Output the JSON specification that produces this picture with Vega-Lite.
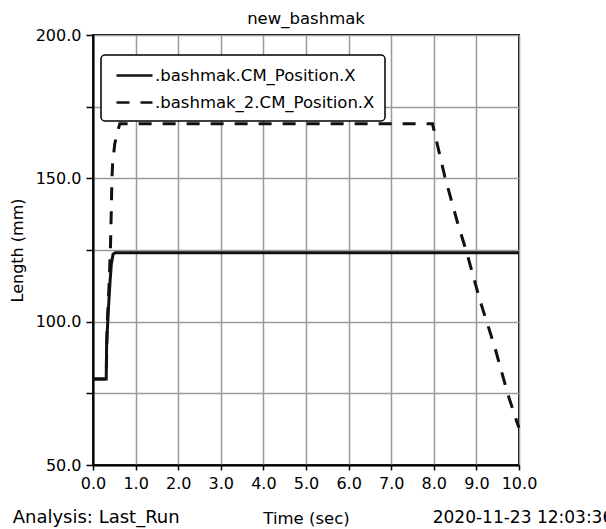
{
  "$schema": "https://vega.github.io/schema/vega-lite/v6.json",
  "width": 426,
  "height": 430,
  "autosize": {"type": "none"},
  "padding": {"left": 93, "top": 35, "right": 87, "bottom": 64},
  "background": "white",
  "title": {
    "text": "new_bashmak",
    "font": "DejaVu Sans",
    "fontSize": 16.5,
    "fontWeight": "normal",
    "color": "black",
    "offset": 0
  },
  "config": {
    "font": "DejaVu Sans",
    "view": {"stroke": "black", "strokeWidth": 2},
    "legend": {"strokeWidth": 1.5},
    "axis": {
      "grid": true,
      "gridColor": "#9a9a9a",
      "gridWidth": 1.5,
      "gridOpacity": 1,
      "domainColor": "black",
      "domainWidth": 2,
      "tickColor": "black",
      "tickWidth": 1.5,
      "labelColor": "black",
      "labelFontSize": 16,
      "labelFlush": false,
      "labelOverlap": false,
      "titleColor": "black",
      "titleFontWeight": "normal"
    }
  },
  "layer": [
    {
      "data": {
        "values": [
          {"t": 0, "v": 80, "series": ".bashmak.CM_Position.X"},
          {"t": 0.31, "v": 80, "series": ".bashmak.CM_Position.X"},
          {"t": 0.32, "v": 92, "series": ".bashmak.CM_Position.X"},
          {"t": 0.36, "v": 104, "series": ".bashmak.CM_Position.X"},
          {"t": 0.4, "v": 114, "series": ".bashmak.CM_Position.X"},
          {"t": 0.43, "v": 120, "series": ".bashmak.CM_Position.X"},
          {"t": 0.47, "v": 123.5, "series": ".bashmak.CM_Position.X"},
          {"t": 0.52, "v": 124, "series": ".bashmak.CM_Position.X"},
          {"t": 10, "v": 124, "series": ".bashmak.CM_Position.X"},
          {"t": 0, "v": 80, "series": ".bashmak_2.CM_Position.X"},
          {"t": 0.31, "v": 80, "series": ".bashmak_2.CM_Position.X"},
          {"t": 0.33, "v": 98, "series": ".bashmak_2.CM_Position.X"},
          {"t": 0.38, "v": 114, "series": ".bashmak_2.CM_Position.X"},
          {"t": 0.41, "v": 126, "series": ".bashmak_2.CM_Position.X"},
          {"t": 0.425, "v": 136, "series": ".bashmak_2.CM_Position.X"},
          {"t": 0.445, "v": 150, "series": ".bashmak_2.CM_Position.X"},
          {"t": 0.46, "v": 155, "series": ".bashmak_2.CM_Position.X"},
          {"t": 0.51, "v": 162, "series": ".bashmak_2.CM_Position.X"},
          {"t": 0.57, "v": 166, "series": ".bashmak_2.CM_Position.X"},
          {"t": 0.63, "v": 169, "series": ".bashmak_2.CM_Position.X"},
          {"t": 7.97, "v": 169, "series": ".bashmak_2.CM_Position.X"},
          {"t": 8.26, "v": 150.5, "series": ".bashmak_2.CM_Position.X"},
          {"t": 8.56, "v": 134.4, "series": ".bashmak_2.CM_Position.X"},
          {"t": 8.77, "v": 124.3, "series": ".bashmak_2.CM_Position.X"},
          {"t": 9.08, "v": 107.6, "series": ".bashmak_2.CM_Position.X"},
          {"t": 9.43, "v": 91.2, "series": ".bashmak_2.CM_Position.X"},
          {"t": 9.73, "v": 75.1, "series": ".bashmak_2.CM_Position.X"},
          {"t": 9.95, "v": 65, "series": ".bashmak_2.CM_Position.X"},
          {"t": 10, "v": 63, "series": ".bashmak_2.CM_Position.X"}
        ]
      },
      "mark": {"type": "line", "color": "#111111", "strokeWidth": 3},
      "encoding": {
        "x": {
          "field": "t",
          "type": "quantitative",
          "scale": {"domain": [0, 10], "nice": false, "zero": false},
          "axis": {
            "values": [0, 0.5, 1, 1.5, 2, 2.5, 3, 3.5, 4, 4.5, 5, 5.5, 6, 6.5, 7, 7.5, 8, 8.5, 9, 9.5, 10],
            "labelExpr": "datum.value % 1 === 0 ? format(datum.value, '.1f') : ''",
            "tickSize": 5,
            "labelPadding": 5,
            "title": "Time (sec)",
            "titleFontSize": 16.5,
            "titleBaseline": "alphabetic",
            "titleY": 58
          }
        },
        "y": {
          "field": "v",
          "type": "quantitative",
          "scale": {"domain": [50, 200], "nice": false, "zero": false},
          "axis": {
            "values": [50, 75, 100, 125, 150, 175, 200],
            "labelExpr": "datum.value % 50 === 0 ? format(datum.value, '.1f') : ''",
            "tickSize": 7,
            "labelPadding": 5,
            "title": "Length (mm)",
            "titleFontSize": 16,
            "titleAngle": -90,
            "titleAlign": "center",
            "titleBaseline": "middle",
            "titleX": -76,
            "titleY": 215
          }
        },
        "strokeDash": {
          "field": "series",
          "type": "nominal",
          "scale": {
            "domain": [".bashmak.CM_Position.X", ".bashmak_2.CM_Position.X"],
            "range": [[1, 0], [13, 11]]
          },
          "legend": {
            "title": null,
            "orient": "none",
            "legendX": 8,
            "legendY": 20,
            "direction": "vertical",
            "symbolType": "M-2,0H2",
            "symbolSize": 324,
            "symbolStrokeWidth": 2.5,
            "symbolStrokeColor": "#111111",
            "symbolOffset": 13,
            "labelFontSize": 16.5,
            "labelColor": "black",
            "labelOffset": 10,
            "labelLimit": 400,
            "labelExpr": "datum.label + '\u00a0'",
            "padding": 10,
            "rowPadding": 8,
            "strokeColor": "black",
            "cornerRadius": 4,
            "fillColor": "white"
          }
        }
      }
    },
    {
      "data": {"values": [{"note": "Analysis:  Last_Run"}]},
      "mark": {"type": "text", "align": "left", "baseline": "alphabetic", "fontSize": 18, "color": "black"},
      "encoding": {
        "x": {"datum": -1.885, "type": "quantitative"},
        "y": {"datum": 29.77, "type": "quantitative"},
        "text": {"field": "note"}
      }
    },
    {
      "data": {"values": [{"note": "2020-11-23 12:03:36"}]},
      "mark": {"type": "text", "align": "left", "baseline": "alphabetic", "fontSize": 17, "color": "black"},
      "encoding": {
        "x": {"datum": 7.974, "type": "quantitative"},
        "y": {"datum": 29.77, "type": "quantitative"},
        "text": {"field": "note"}
      }
    }
  ]
}
